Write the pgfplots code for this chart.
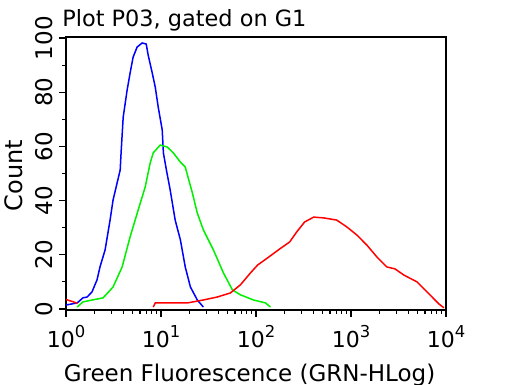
\documentclass[border=0pt]{standalone}
\usepackage{fontspec}
\setmainfont{DejaVu Sans}
\usepackage{pgfplots}
\pgfplotsset{compat=1.18}
\newcommand\sh[1]{\raisebox{0.42em}{\fontsize{8.2}{9}\selectfont #1}}
\begin{document}
\begin{tikzpicture}
\useasboundingbox (0,0) rectangle (256pt,192pt);
\begin{axis}[
  at={(33pt,37pt)}, anchor=south west,
  scale only axis, width=190pt, height=136.5pt,
  xmode=log, xmin=1, xmax=10000, ymin=-0.4, ymax=100.4,
  axis line style={line width=0.8pt},
  tick align=outside, tick pos=left,
  major tick length=3.5pt, minor tick length=2pt,
  every tick/.style={black, line width=0.6pt},
  xtick={1,10,100,1000,10000},
  minor xtick={2,3,4,5,6,7,8,9,20,30,40,50,60,70,80,90,200,300,400,500,600,700,800,900,2000,3000,4000,5000,6000,7000,8000,9000},
  xticklabels={10\sh{0},10\sh{1},10\sh{2},10\sh{3},10\sh{4}},
  ytick={0,20,40,60,80,100}, minor ytick={10,30,50,70,90},
  yticklabels={0,20,40,60,80,100},
  xticklabel style={font=\fontsize{11}{13}\selectfont, anchor=base, yshift=-15pt},
  yticklabel style={font=\fontsize{11.5}{13}\selectfont, xshift=-3.5pt, rotate=90, anchor=base},
  title={Plot P03, gated on G1},
  every axis title/.style={at={(rel axis cs:0,1)}, anchor=base west, inner sep=0pt, yshift=5pt, xshift=-2pt, font=\fontsize{11.2}{13}\selectfont},
  xlabel={Green Fluorescence (GRN-HLog)},
  every axis x label/.style={at={(rel axis cs:0.5,0)}, anchor=base, yshift=-35.5pt, xshift=-3.25pt, font=\fontsize{11.5}{13}\selectfont},
  ylabel={Count},
  every axis y label/.style={at={(rel axis cs:0,0.5)}, xshift=-22pt, yshift=-1pt, rotate=90, anchor=base, font=\fontsize{12}{14}\selectfont},
]
% blue
\addplot[color={rgb,255:red,0;green,0;blue,255}, line width=0.75pt] coordinates {
(1.0,1.5)(1.02,1.5)(1.31,2.2)(1.51,4.1)(1.67,4.4)(1.88,6.3)(2.12,10.7)(2.28,15.5)(2.58,21.8)(2.91,32.8)(3.13,40.2)(3.45,46.5)(3.72,51.3)(3.80,57.6)(4.0,70.8)(4.40,80.8)(4.73,87.1)(5.09,93.0)(5.61,96.7)(6.34,98.2)(6.99,97.8)(7.33,93.7)(8.09,87.1)(8.70,81.9)(9.35,74.5)(10.3,66.1)(10.6,57.6)(11.4,51.3)(12.5,43.9)(14.1,32.8)(16.0,25.5)(18.0,15.5)(20.4,8.1)(24.1,3.3)(27.9,0.7)
};
% green
\addplot[color={rgb,255:red,0;green,240;blue,0}, line width=0.75pt] coordinates {
(1.31,0.7)(1.51,2.6)(2.46,4.1)(3.13,8.1)(3.90,15.5)(4.73,26.6)(5.75,36.5)(6.82,45.0)(7.70,53.9)(8.28,57.6)(9.82,60.5)(11.6,59.8)(13.5,57.6)(16.0,54.2)(18.0,52.4)(21.4,42.8)(24.1,35.4)(27.9,29.2)(35.6,21.8)(45.4,13.3)(56.5,7.0)(68.6,5.2)(94.1,3.3)(126,2.2)(142,0.7)
};
% red
\addplot[color={rgb,255:red,255;green,0;blue,0}, line width=0.75pt] coordinates {
(8.28,0.7)(8.70,2.2)(18.9,2.2)(27.9,3.3)(39.2,4.4)(53.8,5.9)(68.6,8.9)(87.5,13.3)(104,16.2)(132,18.8)(177,22.1)(226,24.7)(268,28.4)(325,32.1)(405,33.9)(516,33.6)(707,32.8)(902,30.3)(1151,27.3)(1467,23.6)(1871,19.2)(2383,15.5)(2896,14.8)(3604,12.5)(4946,10.0)(5859,7.4)(6778,5.2)(8440,1.8)(9527,0.4)
};
\addplot[color={rgb,255:red,255;green,0;blue,0}, line width=0.75pt] coordinates {
(1.0,3.5)(1.1,3.0)(1.2,2.6)(1.32,2.0)
};
\end{axis}
\end{tikzpicture}
\end{document}
